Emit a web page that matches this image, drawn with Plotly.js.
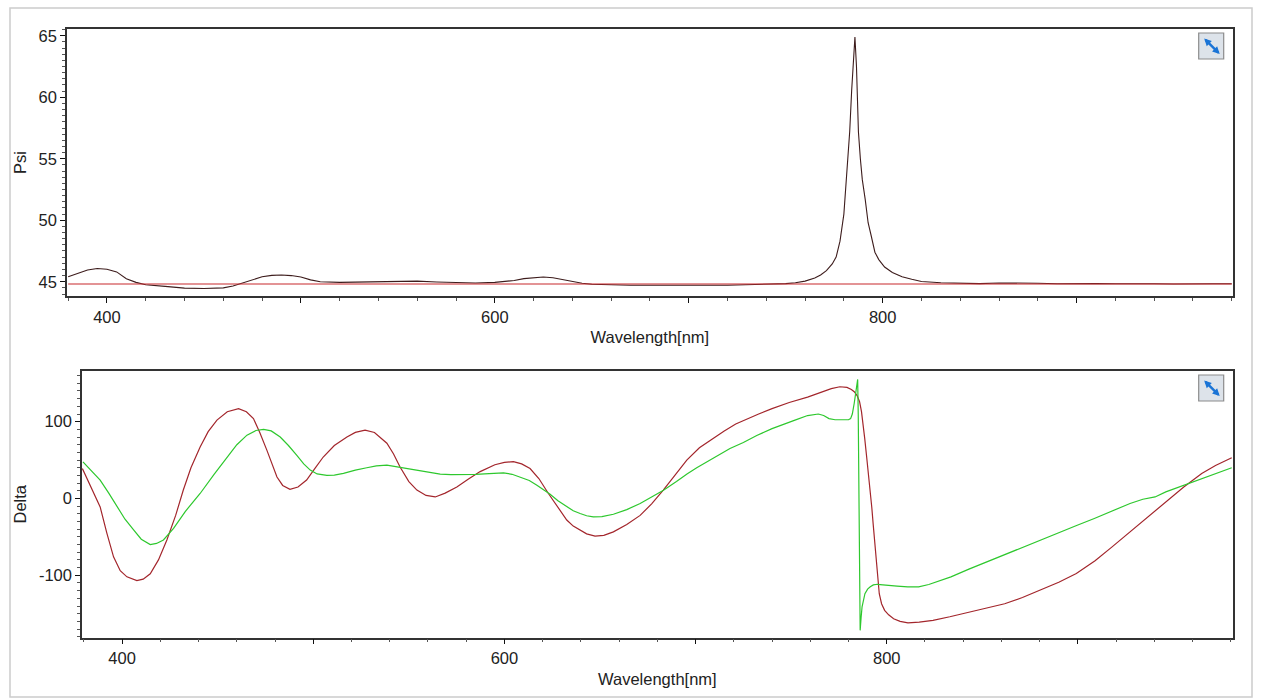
<!DOCTYPE html>
<html>
<head>
<meta charset="utf-8">
<script src="https://cdn.plot.ly/plotly-3.0.1.min.js"></script>
<style>
  html, body { margin: 0; padding: 0; background: #ffffff; }
  #chart { width: 1261px; height: 700px; }
</style>
</head>
<body>
<div id="chart"></div>
<script>
// ---- Psi spectrum (top panel) ----
const psiWl = [380, 385, 390, 395, 400, 405, 410, 415, 420, 430, 440, 450, 460, 465, 470, 475, 480, 485, 490, 495,
  500, 505, 510, 520, 530, 540, 550, 560, 570, 580, 590, 600, 610, 615, 620, 625, 630, 635, 640, 645,
  650, 660, 670, 680, 690, 700, 710, 720, 730, 740, 750, 755, 760, 765, 768, 771, 774, 776, 778, 780,
  781, 782, 783, 784, 785, 785.7, 786.5, 787.5, 788.5, 789.5, 791, 792.5, 794, 796, 798, 801, 805, 810, 815, 820,
  830, 840, 850, 860, 870, 880, 890, 900, 910, 920, 930, 940, 950, 960, 970, 980];
const psiVal = [45.40, 45.70, 45.95, 46.08, 46.02, 45.80, 45.25, 44.95, 44.75, 44.62, 44.48, 44.45, 44.50, 44.65, 44.90, 45.20, 45.40, 45.52, 45.55, 45.50,
  45.38, 45.15, 45.00, 44.95, 44.98, 45.05, 45.08, 45.05, 44.98, 44.92, 44.90, 44.95, 45.10, 45.25, 45.33, 45.38, 45.33, 45.18, 45.00, 44.88,
  44.80, 44.75, 44.72, 44.72, 44.70, 44.70, 44.72, 44.72, 44.75, 44.78, 44.85, 44.92, 45.05, 45.30, 45.55, 45.90, 46.45, 47.0, 48.3, 50.5,
  52.5, 54.8, 57.2, 60.5, 63.5, 64.9, 62.5, 57.2, 55.0, 53.3, 51.7, 49.8, 48.8, 47.4, 46.8, 46.2, 45.75, 45.4, 45.2, 45.02,
  44.92, 44.88, 44.85, 44.90, 44.86, 44.88, 44.84, 44.87, 44.85, 44.83, 44.86, 44.84, 44.82, 44.85, 44.83, 44.84];

// flat reference level drawn across the Psi panel
const refWl = [380, 980];
const refPsi = [44.81, 44.81];

// ---- Delta spectra (bottom panel) ----
const redWl = [379.2, 383, 388.5, 392, 395.5, 399, 402.5, 407.7, 411, 414.7, 419, 423.4, 428, 432, 436, 440.8, 445, 449.6, 455, 460.9,
  465, 468.7, 472, 475.7, 478.5, 481, 484, 487.8, 492, 496.5, 500.5, 505.2, 511, 517.6, 522, 527.1, 532, 535, 538.5, 542,
  545.4, 550, 554.2, 559, 563.8, 569, 575.1, 581, 587.3, 595, 600, 604.7, 609, 613.4, 618, 623, 628, 632.6, 636, 639.6,
  643, 647.4, 652, 657, 664, 671, 677, 683.1, 689, 695.4, 702, 709, 715, 721, 727, 733, 740, 749, 758.6, 766,
  771, 775.5, 779.2, 781.5, 783, 784.5, 785.8, 786.8, 787.6, 788.5, 789.5, 790.5, 791.4, 792.2, 792.9, 793.6, 794.2, 795, 796.1, 797.3,
  798.9, 801, 803.6, 807, 811.1, 817, 824.2, 833, 842.9, 852, 861.7, 871, 880.4, 890, 899.2, 909, 917.9, 927, 936.7, 946,
  955.4, 964.8, 972, 980.5];
const redDelta = [39, 18, -11, -45, -76, -94, -102, -107, -105, -98, -80, -54, -22, 11, 40, 67, 87, 102, 113, 117,
  113, 104, 86, 63, 43, 28, 17, 12, 15, 24, 38, 54, 69, 80, 86, 89, 86, 80, 72, 58,
  41, 22, 11, 4, 2, 7, 15, 25, 35, 44, 47, 48, 45, 39, 26, 6.5, -12, -28, -36, -41,
  -46, -49, -48, -43.5, -34, -22, -7, 11, 30, 50, 66, 78, 88, 97, 104, 110, 117, 125, 132, 139,
  143, 145.5, 144.7, 142, 139, 134, 126, 113, 98, 78, 54, 32, 11, -12, -33, -55, -76, -100, -124, -137,
  -145.6, -151.5, -156.5, -160, -162, -161, -158.7, -154, -148, -143, -137, -129, -119.6, -109, -97.8, -81, -63, -44, -24, -4,
  15, 32.6, 43, 53];

const greenWl = [379.5, 384, 388.5, 393, 397.3, 401.5, 406, 410, 414.7, 418, 421.6, 426.9, 433, 440.8, 448, 454.8, 460, 465.3, 470, 474,
  478, 482.7, 487, 491.4, 495, 498.4, 502, 507.1, 511, 515.8, 522, 528, 533, 538.5, 543, 547.2, 552, 556, 561, 566.4,
  572, 578.6, 585, 592, 599.5, 604, 608.2, 613, 617, 620.5, 623.9, 628, 632.6, 636, 639.6, 643, 646.5, 651, 657, 664,
  671, 677, 683.2, 690, 695.5, 700.6, 709, 718, 725, 732, 740, 746, 752, 758.6, 764.2, 767, 769.8, 773, 777.4, 780,
  781.1, 782, 783, 784, 784.8, 785.1, 785.4, 785.7, 786.1, 786.6, 787.1, 788.6, 790, 791.4, 793, 795.1, 798, 801, 805.4, 811,
  816.7, 822, 828, 833.6, 843, 852.3, 861, 871.1, 880, 889.8, 899, 908.6, 918, 927.3, 934, 940.4, 946, 955, 964.8, 972,
  980.5];
const greenDelta = [47.7, 36, 24, 7, -11, -27, -41, -53, -60, -58.5, -54, -39, -17, 6.5, 31, 54, 70, 82.5, 88.5, 90,
  88, 80, 69, 56, 45, 37, 32, 30, 30.5, 32.6, 37, 40, 42.5, 43.4, 41.5, 39, 37, 36, 34, 31.7,
  31, 31, 31.5, 32.5, 33.4, 31.5, 28, 23.5, 17.3, 11.5, 5.6, -3, -11, -16, -19.6, -22.5, -24, -23.5, -20.5, -14.5,
  -6.5, 1.5, 10.8, 22, 32, 40, 52, 65, 73, 82, 91, 97, 102, 108, 110, 108, 104, 102.5, 102, 102.5,
  104, 110, 124, 142, 155, 110, 32, -60, -171.7, -155, -141, -124, -118, -115, -112.5, -111.7, -112.5, -113.5, -114, -115,
  -115, -112, -107, -102, -92, -82.6, -73, -63, -54, -44.8, -35.5, -26, -16, -6.5, -1, 2, 8.6, 17, 26, 33,
  40];

// ---- axis ticks ----
const xTickVals = [400, 500, 600, 700, 800, 900];
const xTickText = ['400', '', '600', '', '800', ''];
const psiTickVals = [45, 50, 55, 60, 65];
const psiTickText = ['45', '50', '55', '60', '65'];
const deltaTickVals = [-100, 0, 100];
const deltaTickText = ['-100', '0', '100'];

const W = 1261, H = 700;
const FONT = { family: 'Liberation Sans, Arial, sans-serif', size: 16.5, color: '#222222' };

function xAxis(domain, anchor, range) {
  return {
    domain: domain, anchor: anchor, range: range,
    tickmode: 'array', tickvals: xTickVals, ticktext: xTickText,
    ticks: 'outside', ticklen: 5, tickwidth: 1, tickcolor: '#111',
    minor: { tickmode: 'linear', tick0: 400, dtick: 20, ticks: 'outside', ticklen: 3, tickcolor: '#555', tickwidth: 1 },
    showline: true, mirror: true, linecolor: '#333', linewidth: 1.5,
    showgrid: false, zeroline: false, tickfont: FONT,
    title: { text: 'Wavelength[nm]', font: FONT, standoff: 7 }
  };
}
function yAxis(domain, anchor, range, vals, text, minorStep, label) {
  return {
    domain: domain, anchor: anchor, range: range,
    tickmode: 'array', tickvals: vals, ticktext: text,
    ticks: 'outside', ticklen: 5, tickwidth: 1, tickcolor: '#111',
    minor: { tickmode: 'linear', tick0: 0, dtick: minorStep, ticks: 'outside', ticklen: 3, tickcolor: '#555', tickwidth: 1 },
    showline: true, mirror: true, linecolor: '#333', linewidth: 1.5,
    showgrid: false, zeroline: false, tickfont: FONT,
    title: { text: label, font: FONT, standoff: 8 }
  };
}

const traces = [
  { x: psiWl, y: psiVal, xaxis: 'x', yaxis: 'y', type: 'scatter', mode: 'lines',
    line: { color: '#3d1c1c', width: 1.1 }, name: 'Psi', hoverinfo: 'x+y' },
  { x: refWl, y: refPsi, xaxis: 'x', yaxis: 'y', type: 'scatter', mode: 'lines',
    line: { color: '#c8282d', width: 1.1 }, name: 'Psi ref', hoverinfo: 'x+y' },
  { x: redWl, y: redDelta, xaxis: 'x2', yaxis: 'y2', type: 'scatter', mode: 'lines',
    line: { color: '#a3262c', width: 1.2 }, name: 'Delta', hoverinfo: 'x+y' },
  { x: greenWl, y: greenDelta, xaxis: 'x2', yaxis: 'y2', type: 'scatter', mode: 'lines',
    line: { color: '#2ec82e', width: 1.2 }, name: 'Delta ref', hoverinfo: 'x+y' }
];

// expand buttons in the top-right corner of each panel
function expandButton(xref, yref) {
  return {
    type: 'rect', xref: xref + ' domain', yref: yref + ' domain',
    xsizemode: 'pixel', xanchor: 1, x0: -34, x1: -9,
    ysizemode: 'pixel', yanchor: 1, y0: -30, y1: -4,
    line: { color: '#8c8c8c', width: 1.2 }, fillcolor: '#dde3ea', layer: 'above'
  };
}
function expandArrow(xref, yref) {
  return {
    xref: xref + ' domain', yref: yref + ' domain', x: 1, y: 1,
    xshift: -13, yshift: -25, ax: -17, ay: -17,
    showarrow: true, text: '', arrowside: 'end+start',
    arrowhead: 2, arrowsize: 0.6, arrowwidth: 2.4, arrowcolor: '#1a74d6'
  };
}

const layout = {
  width: W, height: H,
  margin: { l: 0, r: 0, t: 0, b: 0 },
  paper_bgcolor: '#ffffff', plot_bgcolor: '#ffffff',
  showlegend: false,
  font: FONT,
  xaxis: xAxis([67 / W, 1232.7 / W], 'y', [379.4, 980.5]),
  yaxis: yAxis([1 - 296 / H, 1 - 29 / H], 'x', [43.84, 65.55], psiTickVals, psiTickText, 0.5, 'Psi'),
  xaxis2: xAxis([82 / W, 1232.7 / W], 'y2', [379, 981]),
  yaxis2: yAxis([1 - 637.5 / H, 1 - 371 / H], 'x2', [-181, 166], deltaTickVals, deltaTickText, 10, 'Delta'),
  shapes: [
    // window frame
    { type: 'rect', xref: 'paper', yref: 'paper',
      x0: 10 / W, x1: 1252 / W, y0: 1 - 697 / H, y1: 1 - 8 / H,
      line: { color: '#cccccc', width: 1.5 }, layer: 'below' },
    expandButton('x', 'y'),
    expandButton('x2', 'y2')
  ],
  annotations: [expandArrow('x', 'y'), expandArrow('x2', 'y2')]
};

Plotly.newPlot('chart', traces, layout, { displayModeBar: false });
</script>
</body>
</html>
